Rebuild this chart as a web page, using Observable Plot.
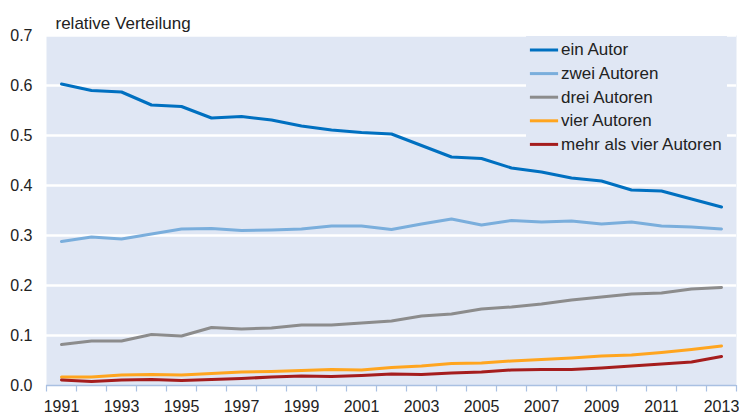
<!DOCTYPE html>
<html>
<head>
<meta charset="utf-8">
<script src="https://cdn.jsdelivr.net/npm/d3@7"></script>
<script src="https://cdn.jsdelivr.net/npm/@observablehq/plot@0.6"></script>
<style>
  html, body { margin: 0; padding: 0; background: #fff; }
  #chart { width: 739px; height: 416px; }
</style>
</head>
<body>
<div id="chart"></div>
<script>
const years = d3.range(1991, 2014);
const yearLabels = [1991, 1993, 1995, 1997, 1999, 2001, 2003, 2005, 2007, 2009, 2011, 2013];
const yTicks = [0, 0.1, 0.2, 0.3, 0.4, 0.5, 0.6, 0.7];
const seriesNames = ["ein Autor", "zwei Autoren", "drei Autoren", "vier Autoren", "mehr als vier Autoren"];
const seriesColors = ["#0070c0", "#7aaedc", "#8c8c8c", "#ffa51f", "#a51d1d"];

const einAutor = [0.603, 0.590, 0.587, 0.561, 0.558, 0.535, 0.538, 0.531, 0.519, 0.511, 0.506, 0.503, 0.480, 0.457, 0.454, 0.435, 0.427, 0.415, 0.409, 0.391, 0.389, 0.373, 0.357];
const zweiAutoren = [0.288, 0.297, 0.293, 0.303, 0.313, 0.314, 0.310, 0.311, 0.313, 0.319, 0.319, 0.312, 0.323, 0.333, 0.321, 0.330, 0.327, 0.329, 0.323, 0.327, 0.319, 0.317, 0.313];
const dreiAutoren = [0.082, 0.089, 0.089, 0.102, 0.099, 0.116, 0.113, 0.115, 0.121, 0.121, 0.125, 0.129, 0.139, 0.143, 0.153, 0.157, 0.163, 0.171, 0.177, 0.183, 0.185, 0.193, 0.196];
const vierAutoren = [0.017, 0.017, 0.021, 0.022, 0.021, 0.024, 0.027, 0.028, 0.030, 0.032, 0.031, 0.036, 0.039, 0.044, 0.045, 0.049, 0.052, 0.055, 0.059, 0.061, 0.066, 0.072, 0.079];
const mehrAutoren = [0.011, 0.008, 0.011, 0.012, 0.010, 0.012, 0.014, 0.017, 0.019, 0.018, 0.020, 0.023, 0.022, 0.025, 0.027, 0.031, 0.032, 0.032, 0.035, 0.039, 0.043, 0.047, 0.058];

const allSeries = [einAutor, zweiAutoren, dreiAutoren, vierAutoren, mehrAutoren];
const data = [];
allSeries.forEach((vals, i) => vals.forEach((v, j) => data.push({year: years[j], value: v, series: seriesNames[i]})));

const boundaries = d3.range(1990.5, 2014, 1);
const legend = seriesNames.map((name, i) => ({name, i}));

const font = "Liberation Sans, Arial, sans-serif";
const chart = Plot.plot({
  width: 739,
  height: 416,
  marginTop: 35,
  marginBottom: 31,
  marginLeft: 46,
  marginRight: 3,
  style: {fontFamily: font, fontSize: "16px", color: "#222", background: "#fff"},
  x: {type: "linear", domain: [1990.5, 2013.5], axis: null},
  y: {type: "linear", domain: [0, 0.7], axis: null},
  color: {domain: seriesNames, range: seriesColors},
  marks: [
    Plot.frame({fill: "#e0e7f4", stroke: null}),
    Plot.ruleY(yTicks.filter(d => d > 0), {stroke: "#fff", strokeWidth: 2.5}),
    Plot.rect([0], {x1: () => 2006.5, x2: () => 2013.2, y1: () => 0.452, y2: () => 0.698, fill: "#e0e7f4"}),
    Plot.ruleY([0], {stroke: "#a9c0e2", strokeWidth: 1.5}),
    Plot.ruleX(boundaries, {x: d => d, y1: () => 0, y2: () => -0.013, stroke: "#a9c0e2", strokeWidth: 1.2}),
    Plot.line(data, {x: "year", y: "value", z: "series", stroke: "series", strokeWidth: 3, curve: "linear"}),
    Plot.text(yearLabels, {x: d => d, y: () => 0, text: d => String(d), dy: 21, fontSize: 16, fill: "#222", textAnchor: "middle"}),
    Plot.text(yTicks, {x: () => 1990.5, y: d => d, text: d => d.toFixed(1), dx: -14, fontSize: 16, fill: "#222", textAnchor: "end"}),
    Plot.text(["relative Verteilung"], {frameAnchor: "top-left", dx: 9, dy: -19, fontSize: 17, fill: "#222", textAnchor: "start"}),
    Plot.ruleY(legend, {x1: () => 2006.63, x2: () => 2007.57, y: d => 0.671 - d.i * 0.0472, stroke: d => d.name, strokeWidth: 3}),
    Plot.text(legend, {x: () => 2007.65, y: d => 0.671 - d.i * 0.0472, text: "name", textAnchor: "start", fontSize: 17, fill: "#222"})
  ]
});
document.getElementById("chart").appendChild(chart);
</script>
</body>
</html>
